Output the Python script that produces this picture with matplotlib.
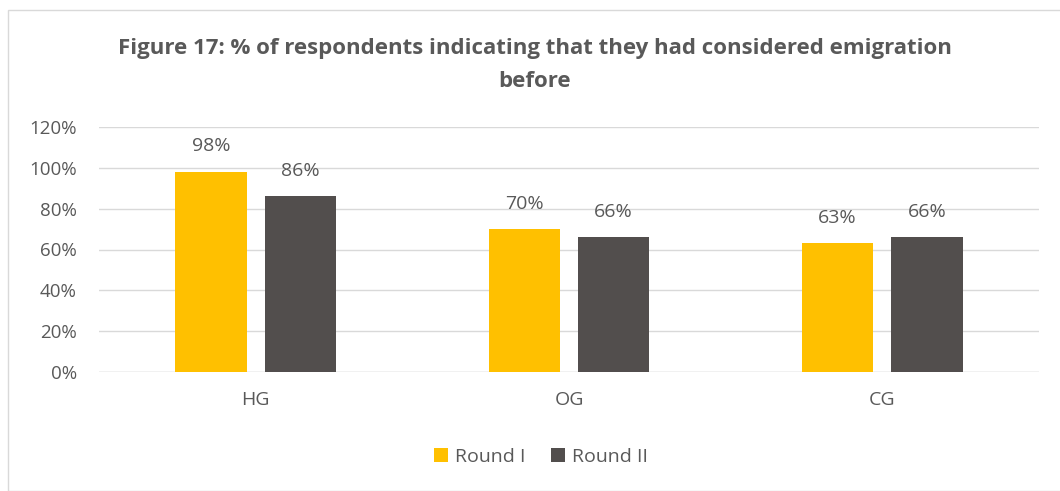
import matplotlib.pyplot as plt
from matplotlib.patches import Rectangle
import numpy as np

# Data
categories = ['HG', 'OG', 'CG']
round1 = [98, 70, 63]
round2 = [86, 66, 66]
series_names = ['Round I', 'Round II']

ORANGE = '#FFC000'
DARK = '#524E4D'
TEXT = '#595959'
GRID = '#D9D9D9'

plt.rcParams['font.family'] = ['Open Sans', 'DejaVu Sans']

fig = plt.figure(figsize=(10.6, 4.91), dpi=100)
fig.patches.append(Rectangle((8 / 1060, 0), 1.0, 1 - 10 / 491, transform=fig.transFigure,
                             fill=False, edgecolor='#D9D9D9', linewidth=1))

ax = fig.add_axes([99 / 1060, 1 - 372 / 491, 940 / 1060, 245 / 491])

x = np.arange(len(categories))
w = 0.227
gap = 0.058
b1 = ax.bar(x - (w + gap) / 2, round1, w, color=ORANGE, label=series_names[0], zorder=3)
b2 = ax.bar(x + (w + gap) / 2, round2, w, color=DARK, label=series_names[1], zorder=3)

# value labels above bars
for bars, vals in ((b1, round1), (b2, round2)):
    for rect, v in zip(bars, vals):
        ax.text(rect.get_x() + rect.get_width() / 2, v + 12.5, f'{v}%', ha='center', va='center',
                fontsize=14, color=TEXT)

ax.set_xlim(-0.5, 2.5)
ax.set_ylim(0, 120)
ax.set_yticks(range(0, 121, 20))
ax.set_yticklabels([f'{t}%' for t in range(0, 121, 20)])
ax.set_xticks(x)
ax.set_xticklabels(categories)
ax.tick_params(axis='both', length=0, colors=TEXT)
ax.tick_params(axis='y', pad=16, labelsize=13.5)
ax.tick_params(axis='x', pad=14, labelsize=14)
ax.grid(axis='y', color=GRID, linewidth=1, zorder=0)
for s in ax.spines.values():
    s.set_visible(False)
ax.axhline(0, color=GRID, linewidth=1, zorder=2)

fig.text(535 / 1060, 1 - 65 / 491,
         'Figure 17: % of respondents indicating that they had considered emigration\nbefore',
         ha='center', va='center', fontsize=16, fontweight='bold', color=TEXT, linespacing=1.75)

fig.legend(loc='center', bbox_to_anchor=(541 / 1060, 1 - 457 / 491), ncol=2, frameon=False,
           handlelength=0.75, handleheight=0.75, handletextpad=0.35, columnspacing=1.3,
           labelcolor=TEXT, prop={'size': 14})

fig.savefig('out.png', dpi=100)
